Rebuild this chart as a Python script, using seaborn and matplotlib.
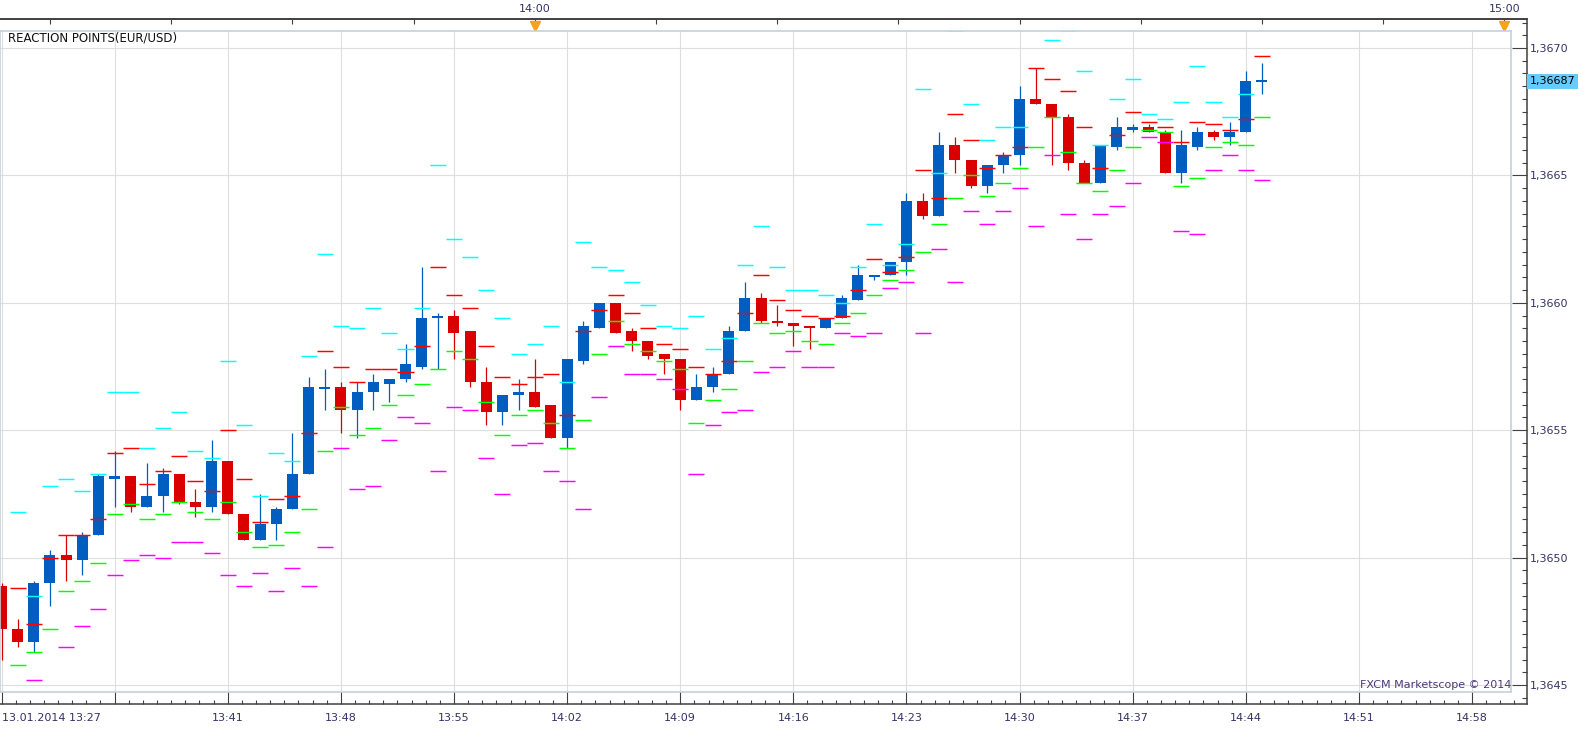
import numpy as np
import pandas as pd
import matplotlib
matplotlib.use("Agg")
import matplotlib.pyplot as plt
import matplotlib.transforms as mtransforms
from matplotlib.ticker import MultipleLocator
import seaborn as sns

nan = np.nan

# ------------------------------------------------------------------ bars
# EUR/USD 1-minute bars, 13.01.2014, index 0 = 13:27 ... index 78 = 14:45
open_ = [1.36489, 1.36472, 1.36467, 1.36490, 1.36501, 1.36499, 1.36509, 1.36531, 1.36532, 1.36520,
         1.36524, 1.36533, 1.36522, 1.36520, 1.36538, 1.36517, 1.36507, 1.36513, 1.36519, 1.36533,
         1.36566, 1.36567, 1.36558, 1.36565, 1.36568, 1.36570, 1.36575, 1.36594, 1.36595, 1.36589,
         1.36569, 1.36557, 1.36564, 1.36565, 1.36560, 1.36547, 1.36577, 1.36590, 1.36600, 1.36589,
         1.36585, 1.36580, 1.36578, 1.36562, 1.36567, 1.36572, 1.36589, 1.36602, 1.36593, 1.36592,
         1.36591, 1.36590, 1.36594, 1.36601, 1.36610, 1.36611, 1.36616, 1.36640, 1.36634, 1.36662,
         1.36656, 1.36646, 1.36654, 1.36658, 1.36680, 1.36678, 1.36673, 1.36655, 1.36647, 1.36661,
         1.36668, 1.36669, 1.36667, 1.36651, 1.36661, 1.36667, 1.36665, 1.36667, 1.36687]
high = [1.36490, 1.36476, 1.36491, 1.36503, 1.36509, 1.36510, 1.36533, 1.36542, 1.36532, 1.36537,
        1.36535, 1.36533, 1.36527, 1.36546, 1.36538, 1.36517, 1.36525, 1.36520, 1.36549, 1.36571,
        1.36574, 1.36569, 1.36569, 1.36572, 1.36570, 1.36584, 1.36614, 1.36596, 1.36597, 1.36589,
        1.36575, 1.36564, 1.36570, 1.36578, 1.36560, 1.36578, 1.36593, 1.36600, 1.36600, 1.36590,
        1.36585, 1.36580, 1.36578, 1.36572, 1.36575, 1.36591, 1.36608, 1.36604, 1.36599, 1.36592,
        1.36591, 1.36594, 1.36603, 1.36615, 1.36611, 1.36616, 1.36643, 1.36643, 1.36667, 1.36665,
        1.36656, 1.36654, 1.36659, 1.36685, 1.36692, 1.36678, 1.36674, 1.36656, 1.36662, 1.36673,
        1.36670, 1.36670, 1.36668, 1.36668, 1.36669, 1.36668, 1.36671, 1.36691, 1.36694]
low = [1.36460, 1.36465, 1.36463, 1.36481, 1.36491, 1.36493, 1.36509, 1.36520, 1.36518, 1.36520,
       1.36518, 1.36521, 1.36516, 1.36518, 1.36517, 1.36507, 1.36507, 1.36507, 1.36519, 1.36533,
       1.36558, 1.36549, 1.36547, 1.36558, 1.36561, 1.36569, 1.36574, 1.36574, 1.36578, 1.36567,
       1.36552, 1.36552, 1.36558, 1.36559, 1.36547, 1.36543, 1.36576, 1.36590, 1.36588, 1.36581,
       1.36578, 1.36572, 1.36558, 1.36562, 1.36565, 1.36572, 1.36589, 1.36592, 1.36591, 1.36583,
       1.36582, 1.36590, 1.36594, 1.36601, 1.36609, 1.36611, 1.36611, 1.36633, 1.36634, 1.36651,
       1.36645, 1.36643, 1.36651, 1.36654, 1.36678, 1.36654, 1.36652, 1.36647, 1.36647, 1.36660,
       1.36667, 1.36667, 1.36651, 1.36647, 1.36660, 1.36664, 1.36662, 1.36667, 1.36682]
close = [1.36472, 1.36467, 1.36490, 1.36501, 1.36499, 1.36509, 1.36532, 1.36532, 1.36520, 1.36524,
         1.36533, 1.36522, 1.36520, 1.36538, 1.36517, 1.36507, 1.36513, 1.36519, 1.36533, 1.36567,
         1.36567, 1.36558, 1.36565, 1.36569, 1.36570, 1.36576, 1.36594, 1.36595, 1.36588, 1.36569,
         1.36557, 1.36564, 1.36565, 1.36559, 1.36547, 1.36578, 1.36591, 1.36600, 1.36588, 1.36585,
         1.36579, 1.36578, 1.36562, 1.36567, 1.36572, 1.36589, 1.36602, 1.36593, 1.36592, 1.36591,
         1.36590, 1.36594, 1.36602, 1.36611, 1.36611, 1.36616, 1.36640, 1.36634, 1.36662, 1.36656,
         1.36646, 1.36654, 1.36658, 1.36680, 1.36678, 1.36673, 1.36655, 1.36647, 1.36662, 1.36669,
         1.36669, 1.36667, 1.36651, 1.36662, 1.36667, 1.36665, 1.36667, 1.36687, 1.36687]

# --------------------------------------------------------- reaction points
# levels shown on each bar: cyan (HBOP), red (sell), green (buy), magenta (LBOP)
hbop = [nan, 1.36518, 1.36485, 1.36528, 1.36531, 1.36526, 1.36533, 1.36565, 1.36565, 1.36543,
        1.36551, 1.36557, 1.36542, 1.36539, 1.36577, 1.36552, 1.36524, 1.36541, 1.36538, 1.36579,
        1.36619, 1.36591, 1.36590, 1.36598, 1.36588, 1.36582, 1.36598, 1.36654, 1.36625, 1.36618,
        1.36605, 1.36594, 1.36580, 1.36584, 1.36591, 1.36569, 1.36624, 1.36614, 1.36613, 1.36608,
        1.36599, 1.36591, 1.36590, 1.36595, 1.36582, 1.36586, 1.36615, 1.36630, 1.36614, 1.36605,
        1.36605, 1.36603, 1.36600, 1.36614, 1.36631, 1.36615, 1.36623, 1.36684, 1.36651, 1.36707,
        1.36678, 1.36664, 1.36669, 1.36669, 1.36723, 1.36703, 1.36707, 1.36691, 1.36662, 1.36680,
        1.36688, 1.36674, 1.36672, 1.36679, 1.36693, 1.36679, 1.36673, 1.36682, 1.36721]
sell = [nan, 1.36488, 1.36474, 1.36500, 1.36509, 1.36509, 1.36515, 1.36541, 1.36543, 1.36529,
        1.36534, 1.36540, 1.36530, 1.36526, 1.36550, 1.36531, 1.36514, 1.36523, 1.36524, 1.36549,
        1.36581, 1.36575, 1.36569, 1.36574, 1.36574, 1.36573, 1.36583, 1.36614, 1.36603, 1.36598,
        1.36583, 1.36571, 1.36568, 1.36571, 1.36572, 1.36556, 1.36589, 1.36597, 1.36603, 1.36596,
        1.36590, 1.36584, 1.36582, 1.36575, 1.36572, 1.36577, 1.36596, 1.36611, 1.36601, 1.36597,
        1.36595, 1.36594, 1.36595, 1.36605, 1.36617, 1.36612, 1.36618, 1.36652, 1.36641, 1.36674,
        1.36664, 1.36653, 1.36658, 1.36661, 1.36692, 1.36688, 1.36683, 1.36669, 1.36653, 1.36666,
        1.36675, 1.36671, 1.36669, 1.36663, 1.36671, 1.36670, 1.36668, 1.36672, 1.36697]
buy = [nan, 1.36458, 1.36463, 1.36472, 1.36487, 1.36491, 1.36498, 1.36517, 1.36521, 1.36515,
       1.36517, 1.36522, 1.36518, 1.36515, 1.36522, 1.36510, 1.36504, 1.36505, 1.36510, 1.36519,
       1.36542, 1.36559, 1.36548, 1.36551, 1.36560, 1.36564, 1.36568, 1.36574, 1.36581, 1.36578,
       1.36561, 1.36548, 1.36556, 1.36558, 1.36553, 1.36543, 1.36554, 1.36580, 1.36593, 1.36584,
       1.36581, 1.36577, 1.36574, 1.36553, 1.36562, 1.36566, 1.36577, 1.36592, 1.36588, 1.36589,
       1.36585, 1.36584, 1.36592, 1.36596, 1.36603, 1.36609, 1.36613, 1.36620, 1.36631, 1.36641,
       1.36650, 1.36642, 1.36647, 1.36653, 1.36661, 1.36673, 1.36659, 1.36647, 1.36644, 1.36652,
       1.36661, 1.36668, 1.36667, 1.36646, 1.36649, 1.36661, 1.36663, 1.36662, 1.36673]
lbop = [nan, 1.36428, 1.36452, 1.36444, 1.36465, 1.36473, 1.36480, 1.36493, 1.36499, 1.36501,
        1.36500, 1.36506, 1.36506, 1.36502, 1.36493, 1.36489, 1.36494, 1.36487, 1.36496, 1.36489,
        1.36504, 1.36543, 1.36527, 1.36528, 1.36546, 1.36555, 1.36553, 1.36534, 1.36559, 1.36558,
        1.36539, 1.36525, 1.36544, 1.36545, 1.36534, 1.36530, 1.36519, 1.36563, 1.36583, 1.36572,
        1.36572, 1.36570, 1.36566, 1.36533, 1.36552, 1.36557, 1.36558, 1.36573, 1.36575, 1.36581,
        1.36575, 1.36575, 1.36588, 1.36587, 1.36588, 1.36606, 1.36608, 1.36588, 1.36621, 1.36608,
        1.36636, 1.36631, 1.36636, 1.36645, 1.36630, 1.36658, 1.36635, 1.36625, 1.36635, 1.36638,
        1.36647, 1.36665, 1.36663, 1.36628, 1.36627, 1.36652, 1.36658, 1.36652, 1.36648]

# ------------------------------------------------------------------ axes
bottom_ticks = [0, 7, 14, 21, 28, 35, 42, 49, 56, 63, 70, 77, 84, 91]
bottom_labels = ["13.01.2014 13:27", "", "13:41", "13:48", "13:55", "14:02", "14:09",
                 "14:16", "14:23", "14:30", "14:37", "14:44", "14:51", "14:58"]
top_ticks = [3, 10.5, 18, 25.5, 33, 40.5, 48, 55.5, 63, 70.5, 78, 85.5, 93]
top_labels = ["", "", "", "", "14:00", "", "", "", "", "", "", "", "15:00"]
hour_marks = [33, 93]
price_ticks = [1.3645, 1.3650, 1.3655, 1.3660, 1.3665, 1.3670]
price_labels = ["1,3645", "1,3650", "1,3655", "1,3660", "1,3665", "1,3670"]
last_price = 1.36687
last_label = "1,36687"

BLUE = "#005EC0"
RED = "#DA0000"
TXT = "#333366"
FRAME = "#404040"

sns.set_theme(style="white")
plt.rcParams["font.family"] = ["DejaVu Sans"]

# pixel geometry of the original screenshot
W, H = 1583, 730
X0, PX_MIN = 1.5, 16.16          # x pixel of 13:27, pixels per minute
Y_REF, PX_PRICE = 48.0, 254800.0  # y pixel of 1,3670, pixels per price unit


def t_at(px):
    return (px - X0) / PX_MIN


def p_at(py):
    return 1.3670 - (py - Y_REF) / PX_PRICE


def rect(x0, y0, x1, y1):
    return [x0 / W, (H - y1) / H, (x1 - x0) / W, (y1 - y0) / H]


fig = plt.figure(figsize=(W / 100, H / 100), dpi=100, facecolor="white")

# outer frame with time / price scales
frame = fig.add_axes(rect(0, 19.2, 1526.5, 703.7), zorder=1)
frame.set_facecolor("white")
frame.set_xlim(t_at(0), t_at(1526.5))
frame.set_ylim(p_at(703.7), p_at(19.2))
frame.spines["left"].set_visible(False)
for s in ("top", "right", "bottom"):
    frame.spines[s].set_color(FRAME)
    frame.spines[s].set_linewidth(1.1)

frame.set_xticks(bottom_ticks, labels=bottom_labels)
frame.xaxis.set_minor_locator(MultipleLocator(0.875))
frame.get_xticklabels()[0].set_horizontalalignment("left")
frame.tick_params(axis="x", which="both", bottom=True, top=False, direction="in",
                  color=FRAME, width=0.8, labelsize=8, labelcolor=TXT, pad=6.5)
frame.tick_params(axis="x", which="major", length=9.3)
frame.tick_params(axis="x", which="minor", length=2.6)

frame.set_yticks(price_ticks, labels=price_labels)
frame.yaxis.set_minor_locator(MultipleLocator(0.00005))
frame.tick_params(axis="y", which="both", left=False, right=True, labelleft=False,
                  labelright=True, direction="in", color=FRAME, width=0.8,
                  labelsize=8, labelcolor=TXT, pad=2.5)
frame.tick_params(axis="y", which="major", length=10.8)
frame.tick_params(axis="y", which="minor", length=3.5)

top = frame.secondary_xaxis("top")
top.set_xticks(top_ticks, labels=top_labels)
top.tick_params(axis="x", top=True, labeltop=True, bottom=False, direction="in",
                length=3.5, width=0.8, color=FRAME, labelsize=8, labelcolor=TXT, pad=3.5)
top.spines["top"].set_color(FRAME)

bt = mtransforms.blended_transform_factory(frame.transData, frame.transAxes)
frame.plot(hour_marks, [0.9905] * len(hour_marks), ls="none", marker="v", ms=7,
           color="#F7A21E", mec="#F7A21E", transform=bt, clip_on=False, zorder=4)
frame.vlines(hour_marks, 0.978, 0.986, colors="#A0A0A0", lw=0.8, transform=bt)

rt = mtransforms.blended_transform_factory(frame.transAxes, frame.transData)
frame.text(1.0 + 3.2 / 1526.5, last_price, last_label, transform=rt, ha="left",
           va="center", fontsize=8, color="black", zorder=5,
           bbox=dict(boxstyle="square,pad=0.22", fc="#66CCFF", ec="none"))

# inner chart panel
ax = fig.add_axes(rect(0, 31.3, 1511, 691.6), zorder=2)
ax.set_facecolor("white")

t = np.arange(len(open_))
o, h, l, c = (np.array(v) for v in (open_, high, low, close))
up = c >= o
colors = np.where(up, BLUE, RED)
ax.vlines(t, l, h, colors=colors, lw=0.9, zorder=2)
body = np.maximum(np.abs(c - o), 0.000005)
ax.bar(t, body, bottom=np.minimum(o, c) - (body - np.abs(c - o)) / 2,
       width=0.68, color=colors, linewidth=0, zorder=2)

rp = pd.DataFrame({
    "t": np.tile(t, 4),
    "level": np.concatenate([hbop, sell, buy, lbop]),
    "kind": np.repeat(["hbop", "sell", "buy", "lbop"], len(t)),
}).dropna()
sns.scatterplot(data=rp, x="t", y="level", hue="kind",
                palette={"hbop": "#00FFFF", "sell": "#FF0000",
                         "buy": "#00FF00", "lbop": "#FF00FF"},
                marker="_", s=133, linewidth=1.05, legend=False, ax=ax, zorder=3)

ax.set_xlim(t_at(0), t_at(1511))
ax.set_ylim(p_at(691.6), p_at(31.3))
ax.set_xticks(bottom_ticks)
ax.set_yticks(price_ticks)
ax.tick_params(length=0, labelbottom=False, labelleft=False)
ax.grid(True, color="#DEDEDE", lw=0.8)
ax.set_axisbelow(True)
ax.set_xlabel("")
ax.set_ylabel("")
for s in ax.spines.values():
    s.set_color("#C6D0DA")
    s.set_linewidth(1.2)

ax.text(8 / 1511, 1 - 7.1 / 660.3, "REACTION POINTS(EUR/USD)", transform=ax.transAxes,
        ha="left", va="center", fontsize=8.5, color="#111111")
ax.text(1.0, 1 - 653.7 / 660.3, "FXCM Marketscope \u00a9 2014", transform=ax.transAxes,
        ha="right", va="center", fontsize=8, color="#4A3A7A", zorder=5)

fig.savefig("out.png", dpi=100, facecolor="white")
